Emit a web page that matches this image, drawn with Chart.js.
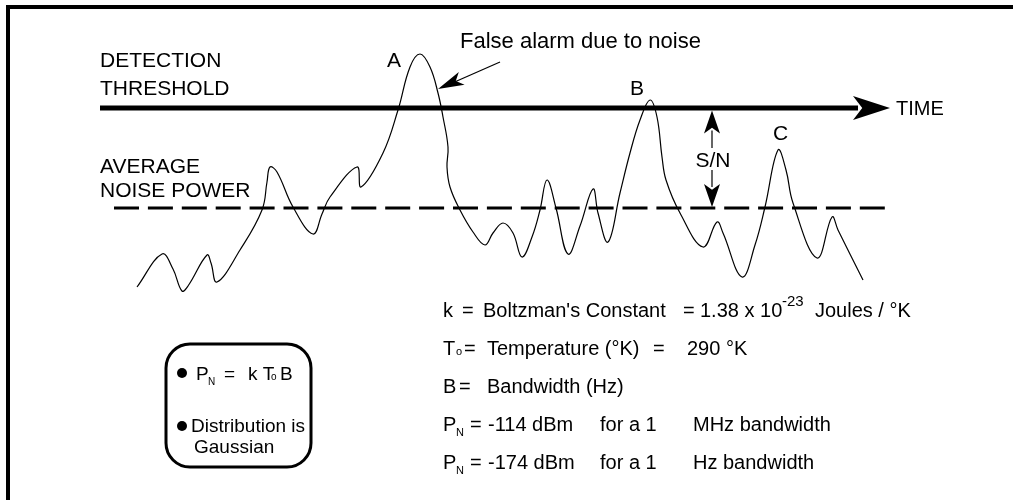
<!DOCTYPE html>
<html>
<head>
<meta charset="utf-8">
<script src="https://cdn.jsdelivr.net/npm/chart.js@4.4.1/dist/chart.umd.min.js"></script>
<style>
  html, body { margin: 0; padding: 0; background: #fff; }
  #wrap { width: 1013px; height: 500px; }
</style>
</head>
<body>
<div id="wrap"><canvas id="noiseChart"></canvas></div>
<script>
/* Data: time (x) and noise power relative to the average level (y) */
const noiseTime = [
  137, 162, 173, 182, 188, 207, 211, 217, 240, 262, 267, 270, 277, 293, 313,
  322, 330, 357, 361, 383, 398, 410, 420, 430, 438, 443, 448, 447, 450, 460,
  473, 485, 493, 503, 513, 522, 532, 540, 547, 556, 568, 580, 593, 598, 608,
  620, 630, 640, 650, 657, 662, 666, 680, 703, 717, 723, 742, 755, 765, 778,
  786, 793, 817, 832, 838, 863,
];
const noisePower = [
  -79, -46, -61, -83, -78, -47, -55, -74, -42, -2, 26, 41, 36, 1, -26,
  -6, 11, 41, 21, 55, 98, 141, 154, 141, 115, 91, 61, 41, 21, -2,
  -24, -37, -25, -15, -25, -49, -29, -2, 28, 0, -46, -18, 19, -5, -34,
  15, 55, 88, 108, 91, 51, 28, -5, -39, -14, -25, -69, -37, 1, 58,
  38, 5, -50, -9, -22, -72,
];
const thresholdLevel = 100;
const averageLevel = 0;
const thresholdSpan = [100, 858];
const averageSpan = [114, 885];

const FONT = '"Liberation Sans", Arial, Helvetica, sans-serif';

const toPoints = (xs, ys) => xs.map((t, i) => ({ x: t, y: ys[i] }));

/* Annotations drawn on top of the scales */
const annotate = {
  id: "annotate",
  afterDatasetsDraw(chart) {
    const { ctx, scales: { x, y } } = chart;
    const px = (t) => x.getPixelForValue(t);
    const py = (v) => y.getPixelForValue(v);
    const text = (str, tx, ty, size, align) => {
      ctx.font = `${size}px ${FONT}`;
      ctx.textAlign = align || "left";
      ctx.textBaseline = "alphabetic";
      ctx.fillText(str, tx, ty);
    };
    const head = (tipX, tipY, ang, len, half) => {
      const c = Math.cos(ang), s = Math.sin(ang);
      const bx = tipX - c * len, by = tipY - s * len;
      const ix = tipX - c * len * 0.75, iy = tipY - s * len * 0.75;
      ctx.beginPath();
      ctx.moveTo(tipX, tipY);
      ctx.lineTo(bx - s * half, by + c * half);
      ctx.lineTo(ix, iy);
      ctx.lineTo(bx + s * half, by - c * half);
      ctx.closePath();
      ctx.fill();
    };

    ctx.save();
    ctx.fillStyle = "#000";
    ctx.strokeStyle = "#000";

    // frame
    ctx.fillRect(6, 5, 1007, 4);
    ctx.fillRect(6, 5, 4, 495);

    // threshold arrow head + TIME
    head(px(890), py(thresholdLevel), 0, 37, 12);
    text("TIME", px(896), py(thresholdLevel) + 7, 20);

    // left labels
    text("DETECTION", 100, 67, 21);
    text("THRESHOLD", 100, 95, 21);
    text("AVERAGE", 100, 173, 21);
    text("NOISE POWER", 100, 197, 21);

    // peak labels
    text("A", px(387), py(141), 21);
    text("B", px(630), py(113), 21);
    text("C", px(773), py(68), 21);

    // false alarm note
    text("False alarm due to noise", 460, 48, 22);
    ctx.lineWidth = 1.2;
    ctx.beginPath();
    ctx.moveTo(500, 62);
    ctx.lineTo(px(450), py(124));
    ctx.stroke();
    head(px(438), py(119), Math.atan2(90 - 62, 438 - 500), 26, 7);

    // S/N arrow
    const snX = px(712);
    const top = py(thresholdLevel) + 2.5;
    const bot = py(averageLevel) - 1;
    ctx.lineWidth = 1.2;
    ctx.beginPath();
    ctx.moveTo(snX, top + 20); ctx.lineTo(snX, 148);
    ctx.moveTo(snX, 170); ctx.lineTo(snX, bot - 20);
    ctx.stroke();
    head(snX, top, -Math.PI / 2, 23, 8);
    head(snX, bot, Math.PI / 2, 23, 8);
    text("S/N", snX + 1, 167, 21, "center");

    // formula block
    const L = 443;
    text("k", L, 317, 20);
    text("=", 462, 317, 20);
    text("Boltzman's Constant", 483, 317, 20);
    text("=", 683, 317, 20);
    text("1.38 x 10", 700, 317, 20);
    text("-23", 782, 306, 15);
    text("Joules / \u00B0K", 815, 317, 20);

    text("T", L, 355, 20);
    text("o", 456, 355, 11);
    text("=", 464, 355, 20);
    text("Temperature (\u00B0K)", 487, 355, 20);
    text("=", 653, 355, 20);
    text("290 \u00B0K", 687, 355, 20);

    text("B", L, 393, 20);
    text("=", 459, 393, 20);
    text("Bandwidth (Hz)", 487, 393, 20);

    [["-114 dBm", "MHz bandwidth", 431], ["-174 dBm", "Hz bandwidth", 469]].forEach(([v, bw, by]) => {
      text("P", L, by, 20);
      text("N", 456, by + 5, 11);
      text("=", 470, by, 20);
      text(v, 488, by, 20);
      text("for a 1", 600, by, 20);
      text(bw, 693, by, 20);
    });

    // rounded box
    ctx.lineWidth = 3;
    ctx.beginPath();
    ctx.roundRect(166, 344, 145, 123, 24);
    ctx.stroke();
    ctx.beginPath(); ctx.arc(182, 373, 5, 0, Math.PI * 2); ctx.fill();
    ctx.beginPath(); ctx.arc(182, 426, 5, 0, Math.PI * 2); ctx.fill();
    text("P", 196, 380, 19);
    text("N", 208, 385, 10);
    text("=", 224, 380, 19);
    text("k T", 248, 380, 19);
    text("o", 271, 380, 10);
    text("B", 280, 380, 19);
    text("Distribution is", 191, 432, 19);
    text("Gaussian", 194, 453, 19);

    ctx.restore();
  },
};

new Chart(document.getElementById("noiseChart"), {
  type: "line",
  data: {
    datasets: [
      {
        label: "Noise",
        data: toPoints(noiseTime, noisePower),
        borderColor: "#000",
        borderWidth: 1.2,
        pointRadius: 0,
        tension: 0.4,
      },
      {
        label: "Detection threshold",
        data: toPoints(thresholdSpan, [thresholdLevel, thresholdLevel]),
        borderColor: "#000",
        borderWidth: 5,
        pointRadius: 0,
      },
      {
        label: "Average noise power",
        data: toPoints(averageSpan, [averageLevel, averageLevel]),
        borderColor: "#000",
        borderWidth: 3,
        borderDash: [25, 8.9],
        pointRadius: 0,
      },
    ],
  },
  options: {
    responsive: true,
    maintainAspectRatio: false,
    animation: false,
    devicePixelRatio: 1,
    layout: { padding: 0 },
    scales: {
      x: { type: "linear", min: 0, max: 1013, display: false },
      y: { type: "linear", min: -292, max: 208, display: false },
    },
    plugins: {
      legend: { display: false },
      tooltip: { enabled: false },
    },
  },
  plugins: [annotate],
});
</script>
</body>
</html>
